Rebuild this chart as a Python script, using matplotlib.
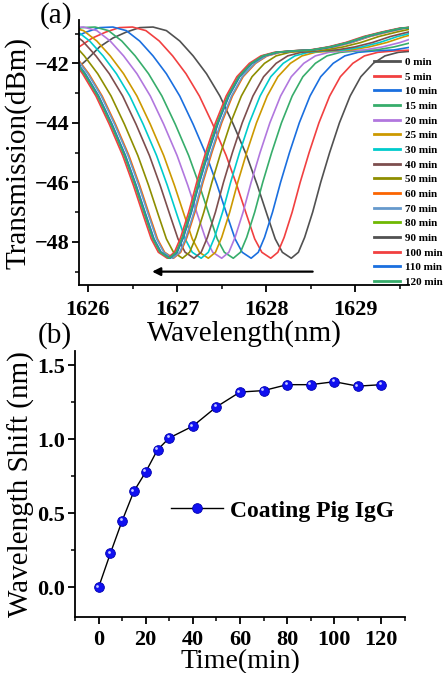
import numpy as np
import matplotlib
matplotlib.use("Agg")
import matplotlib.pyplot as plt
from matplotlib.ticker import MultipleLocator, FormatStrFormatter
from matplotlib import transforms

plt.rcParams["font.family"] = ["Liberation Serif", "DejaVu Serif"]

# --- data ---
labels = ["0 min", "5 min", "10 min", "15 min", "20 min", "25 min", "30 min", "40 min",
          "50 min", "60 min", "70 min", "80 min", "90 min", "100 min", "110 min", "120 min"]
colors = ["#515151", "#F14040", "#1A6FDF", "#37AD6B", "#B177DE", "#CC9900", "#00CBCC",
          "#7D4E4E", "#8E8E00", "#FB6501", "#6699CC", "#6FB802", "#515151", "#F14040",
          "#1A6FDF", "#37AD6B"]
# wavelength of the transmission dip of each spectrum (nm)
dip_centers = [1628.28, 1628.05, 1627.83, 1627.63, 1627.50, 1627.35, 1627.27, 1627.19,
               1627.06, 1626.96, 1626.95, 1626.92, 1626.91, 1626.89, 1626.92, 1626.91]
# shared dip profile: offset from dip (nm) and transmission (dBm)
profile_offset = [-2.45, -2.3, -2.15, -2.0, -1.85, -1.7, -1.55, -1.4, -1.25, -1.1, -0.95,
                  -0.8, -0.65, -0.5, -0.38, -0.27, -0.18, -0.1, 0.0, 0.08, 0.15, 0.24,
                  0.33, 0.43, 0.54, 0.66, 0.78, 0.92, 1.05, 1.2, 1.4, 1.6, 1.8, 2.0,
                  2.2, 2.4, 2.6, 2.75]
profile_dbm = [-42.3, -41.9, -41.45, -41.15, -40.95, -40.8, -40.78, -40.9, -41.25, -41.75,
               -42.35, -43.1, -44.05, -45.1, -46.1, -47.1, -47.9, -48.35, -48.55, -48.35,
               -47.85, -47.0, -46.0, -45.0, -44.0, -43.1, -42.45, -42.0, -41.75, -41.63,
               -41.58, -41.55, -41.45, -41.3, -41.1, -40.95, -40.82, -40.78]

time_min = [0, 5, 10, 15, 20, 25, 30, 40, 50, 60, 70, 80, 90, 100, 110, 120]
shift_nm = [0.0, 0.23, 0.45, 0.65, 0.78, 0.93, 1.01, 1.09, 1.22, 1.32, 1.33, 1.37, 1.37,
            1.39, 1.36, 1.37]

fig = plt.figure(figsize=(4.47, 6.73), dpi=100)

def style_axes(ax, xpad):
    for s in ["top", "right"]:
        ax.spines[s].set_visible(False)
    for s in ["left", "bottom"]:
        ax.spines[s].set_linewidth(1.3)
    ax.tick_params(which="major", direction="out", length=5, width=1.3, labelsize=16, pad=2)
    ax.tick_params(axis="x", which="major", pad=xpad)
    ax.tick_params(which="minor", direction="out", length=3, width=1.1)
    for t in ax.get_xticklabels() + ax.get_yticklabels():
        t.set_fontweight("bold")

# ---------------- panel (a) ----------------
ax1 = fig.add_axes([0.1767, 0.5765, 0.7383, 0.3935])
off = np.array(profile_offset)
for lab, col, c in zip(labels, colors, dip_centers):
    ax1.plot(off + c, profile_dbm, color=col, lw=1.2, label=lab)
ax1.set_xlim(1625.9, 1629.6)
ax1.set_ylim(-49.45, -40.55)
ax1.xaxis.set_major_locator(MultipleLocator(1))
ax1.xaxis.set_minor_locator(MultipleLocator(0.5))
ax1.yaxis.set_major_locator(MultipleLocator(2))
ax1.yaxis.set_minor_locator(MultipleLocator(1))
style_axes(ax1, 6)
ax1.set_xlabel("Wavelength(nm)", fontsize=21, labelpad=0)
ax1.set_ylabel("Transmission(dBm)", fontsize=21, labelpad=2)
ax1.annotate("", xy=(1626.72, -49.0), xytext=(1628.52, -49.0),
             arrowprops=dict(arrowstyle="-|>", color="black", lw=1.6,
                             mutation_scale=12, shrinkA=0, shrinkB=0))
leg1 = ax1.legend(loc="upper left", bbox_to_anchor=(0.8367, 0.915),
                  bbox_transform=fig.transFigure, frameon=False,
                  prop={"weight": "bold", "size": 8}, handlelength=2.3,
                  handletextpad=0.5, labelspacing=0.44, borderpad=0, borderaxespad=0)
for h in leg1.get_lines():
    h.set_linewidth(2)
fig.text(0.09, 0.997, "(a)", fontsize=21, ha="left", va="top")

# ---------------- panel (b) ----------------
ax2 = fig.add_axes([0.1678, 0.0832, 0.7382, 0.3958])
ax2.plot(time_min, shift_nm, color="black", lw=1.0, marker="o", ms=7,
         mfc="#1010F0", mec="#0000B0", mew=0.6, label="Coating Pig IgG")
hl = transforms.offset_copy(ax2.transData, fig=fig, x=-1.1, y=1.1, units="points")
ax2.plot(time_min, shift_nm, ls="none", marker="o", ms=2.0, mfc="#C8CCFF",
         mec="none", transform=hl)
ax2.set_xlim(-10, 130)
ax2.set_ylim(-0.2, 1.6)
ax2.xaxis.set_major_locator(MultipleLocator(20))
ax2.xaxis.set_minor_locator(MultipleLocator(10))
ax2.yaxis.set_major_locator(MultipleLocator(0.5))
ax2.yaxis.set_minor_locator(MultipleLocator(0.25))
ax2.yaxis.set_major_formatter(FormatStrFormatter("%.1f"))
style_axes(ax2, 4)
ax2.set_xlabel("Time(min)", fontsize=20, labelpad=-0.5)
ax2.set_ylabel("Wavelength Shift (nm)", fontsize=21, labelpad=2)
ax2.legend(loc="center left", bbox_to_anchor=(0.29, 0.398), frameon=False,
           prop={"weight": "bold", "size": 17}, handlelength=2.2,
           handletextpad=0.3, borderpad=0, borderaxespad=0)
fig.text(0.085, 0.522, "(b)", fontsize=21, ha="left", va="top")

fig.savefig("out.png", dpi=100)
